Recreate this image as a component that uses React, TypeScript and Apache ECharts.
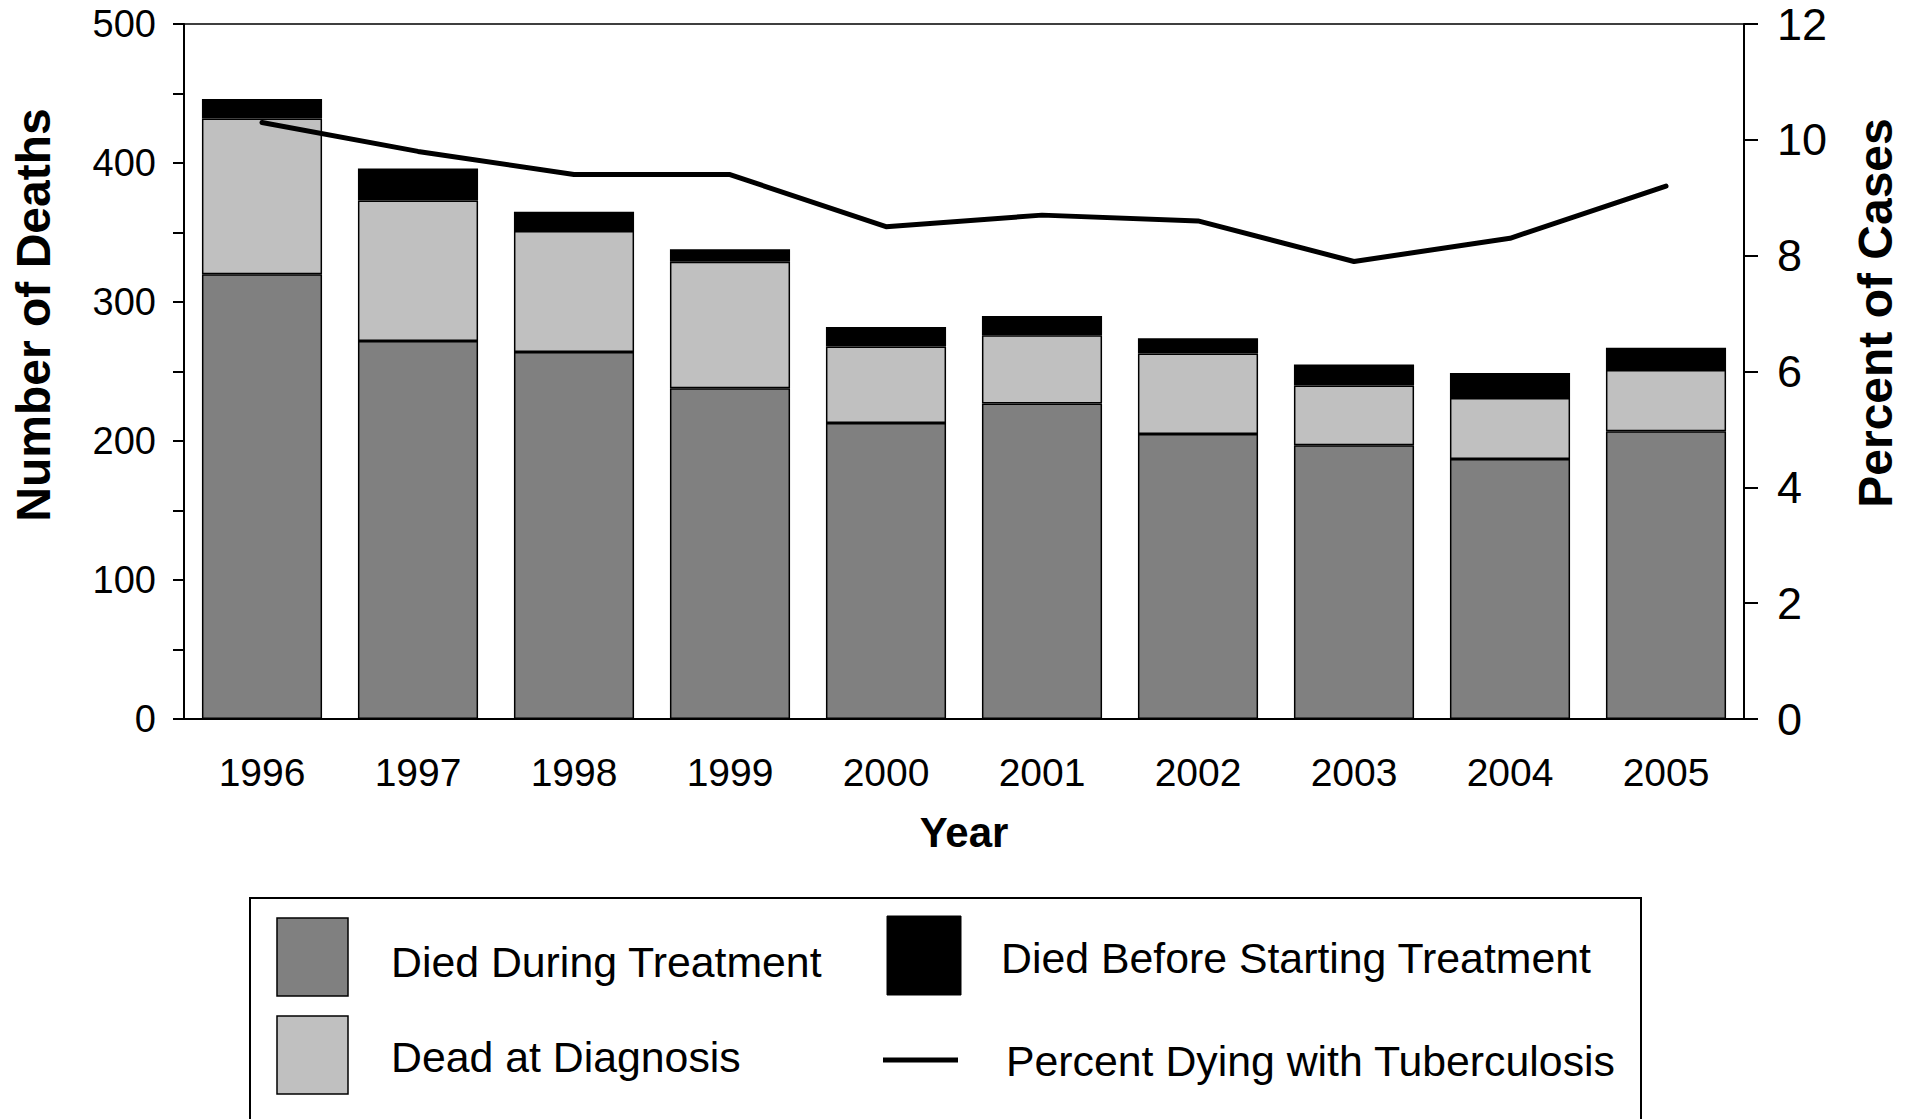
import React, { useEffect, useRef } from "react";
import * as echarts from "echarts";

const years = ["1996", "1997", "1998", "1999", "2000", "2001", "2002", "2003", "2004", "2005"];
const diedDuringTreatment = [320, 272, 264, 238, 213, 227, 205, 197, 187, 207];
const deadAtDiagnosis = [112, 101, 87, 91, 55, 49, 58, 43, 44, 44];
const diedBeforeStarting = [14, 23, 14, 9, 14, 14, 11, 15, 18, 16];
const percentDying = [10.3, 9.8, 9.4, 9.4, 8.5, 8.7, 8.6, 7.9, 8.3, 9.2];

const FONT = '"Liberation Sans", Arial, Helvetica, sans-serif';

export default function App() {
  const ref = useRef<HTMLDivElement>(null);
  useEffect(() => {
    if (!ref.current) return;
    const chart = echarts.init(ref.current, null, { renderer: "svg" });
    const barBorder = { borderColor: "#000", borderWidth: 1.5 };
    chart.setOption({
      animation: false,
      backgroundColor: "#fff",
      textStyle: { fontFamily: FONT },
      grid: {
        left: 184,
        top: 24,
        width: 1560,
        height: 695,
        show: true,
        borderColor: "#000",
        borderWidth: 1.5,
        backgroundColor: "transparent",
      },
      xAxis: {
        type: "category",
        data: years,
        axisLine: { show: true, lineStyle: { color: "#000", width: 2 } },
        axisTick: { show: false },
        axisLabel: { color: "#000", fontSize: 39, margin: 34, fontFamily: FONT },
        splitLine: { show: false },
      },
      yAxis: [
        {
          type: "value",
          min: 0,
          max: 500,
          interval: 100,
          position: "left",
          axisLine: { show: true, lineStyle: { color: "#000", width: 2 } },
          axisTick: { show: true, inside: false, length: 11, lineStyle: { color: "#000", width: 2 } },
          minorTick: { show: true, splitNumber: 2, length: 11, lineStyle: { color: "#000", width: 2 } },
          axisLabel: { color: "#000", fontSize: 38, margin: 28, fontFamily: FONT },
          splitLine: { show: false },
          minorSplitLine: { show: false },
        },
        {
          type: "value",
          min: 0,
          max: 12,
          interval: 2,
          position: "right",
          axisLine: { show: true, lineStyle: { color: "#000", width: 2 } },
          axisTick: { show: true, inside: false, length: 14, lineStyle: { color: "#000", width: 2 } },
          axisLabel: { color: "#000", fontSize: 45, margin: 33, fontFamily: FONT },
          splitLine: { show: false },
        },
      ],
      series: [
        {
          name: "Died During Treatment",
          type: "bar",
          stack: "deaths",
          data: diedDuringTreatment,
          barCategoryGap: "23%",
          itemStyle: { color: "#808080", ...barBorder },
        },
        {
          name: "Dead at Diagnosis",
          type: "bar",
          stack: "deaths",
          data: deadAtDiagnosis,
          itemStyle: { color: "#c0c0c0", ...barBorder },
        },
        {
          name: "Died Before Starting Treatment",
          type: "bar",
          stack: "deaths",
          data: diedBeforeStarting,
          itemStyle: { color: "#000", ...barBorder },
        },
        {
          name: "Percent Dying with Tuberculosis",
          type: "line",
          yAxisIndex: 1,
          data: percentDying,
          symbol: "none",
          z: 10,
          lineStyle: { color: "#000", width: 5, cap: "round", join: "round" },
        },
      ],
      graphic: [
        {
          type: "text",
          x: 33,
          y: 315,
          rotation: Math.PI / 2,
          style: {
            text: "Number of Deaths",
            font: `bold 48px ${FONT}`,
            fill: "#000",
            textAlign: "center",
            textVerticalAlign: "middle",
          },
        },
        {
          type: "text",
          x: 1875,
          y: 313,
          rotation: Math.PI / 2,
          style: {
            text: "Percent of Cases",
            font: `bold 48px ${FONT}`,
            fill: "#000",
            textAlign: "center",
            textVerticalAlign: "middle",
          },
        },
        {
          type: "text",
          x: 964,
          y: 832,
          style: {
            text: "Year",
            font: `bold 42px ${FONT}`,
            fill: "#000",
            textAlign: "center",
            textVerticalAlign: "middle",
          },
        },
        {
          type: "rect",
          shape: { x: 250, y: 898, width: 1391, height: 300 },
          style: { fill: "none", stroke: "#000", lineWidth: 2 },
        },
        {
          type: "rect",
          shape: { x: 277, y: 918, width: 71, height: 78 },
          style: { fill: "#808080", stroke: "#000", lineWidth: 1.5 },
        },
        {
          type: "rect",
          shape: { x: 277, y: 1016, width: 71, height: 78 },
          style: { fill: "#c0c0c0", stroke: "#000", lineWidth: 1.5 },
        },
        {
          type: "rect",
          shape: { x: 887, y: 916, width: 74, height: 79 },
          style: { fill: "#000", stroke: "#000", lineWidth: 1 },
        },
        {
          type: "line",
          shape: { x1: 883, y1: 1060, x2: 958, y2: 1060 },
          style: { stroke: "#000", lineWidth: 5 },
        },
        {
          type: "text",
          x: 391,
          y: 962,
          style: { text: "Died During Treatment", font: `42.8px ${FONT}`, fill: "#000", textVerticalAlign: "middle" },
        },
        {
          type: "text",
          x: 391,
          y: 1057,
          style: { text: "Dead at Diagnosis", font: `42.8px ${FONT}`, fill: "#000", textVerticalAlign: "middle" },
        },
        {
          type: "text",
          x: 1001,
          y: 958,
          style: { text: "Died Before Starting Treatment", font: `42.8px ${FONT}`, fill: "#000", textVerticalAlign: "middle" },
        },
        {
          type: "text",
          x: 1006,
          y: 1061,
          style: { text: "Percent Dying with Tuberculosis", font: `42.8px ${FONT}`, fill: "#000", textVerticalAlign: "middle" },
        },
      ],
    });
    return () => chart.dispose();
  }, []);
  return (
    <div
      ref={ref}
      style={{ position: "absolute", left: 0, top: 0, width: 1914, height: 1119, background: "#fff" }}
    />
  );
}
